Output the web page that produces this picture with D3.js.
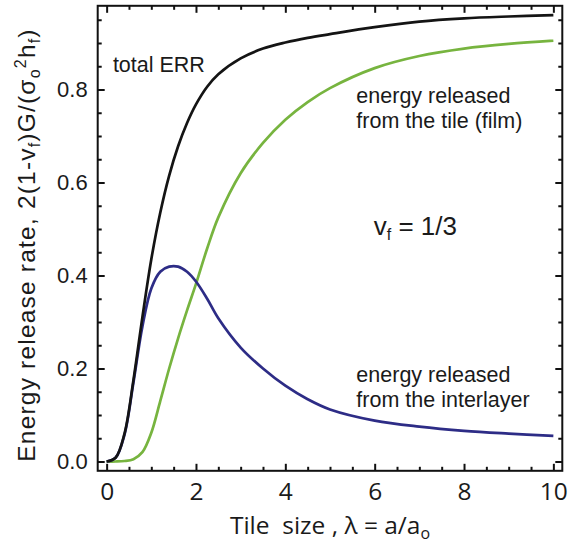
<!DOCTYPE html>
<html>
<head>
<meta charset="utf-8">
<script src="https://cdn.jsdelivr.net/npm/d3@7"></script>
<style>
  body { margin: 0; background: #fff; }
  svg text { font-family: "Liberation Sans", Arial, sans-serif; fill: #1a1a1a; }
  .xlab text, .xtitle { font-family: "Open Sans", "Liberation Sans", sans-serif; }
</style>
</head>
<body>
<svg id="mainsvg" width="576" height="545"></svg>
<script>
// tile size lambda = a/a_o
const lambda = [0, 0.2, 0.4, 0.6, 0.8, 1.0, 1.2, 1.4, 1.6, 1.8, 2.0, 2.25, 2.5, 3, 3.5, 4, 4.5, 5, 6, 7, 8, 9, 10]
const totalErr = [0, 0.008, 0.06, 0.175, 0.31, 0.435, 0.535, 0.615, 0.678, 0.728, 0.768, 0.806, 0.833, 0.867, 0.888, 0.901, 0.911, 0.919, 0.934, 0.946, 0.953, 0.957, 0.960]
const filmErr = [0, 0, 0.001, 0.005, 0.02, 0.062, 0.13, 0.2, 0.265, 0.325, 0.382, 0.458, 0.525, 0.620, 0.685, 0.735, 0.773, 0.803, 0.846, 0.872, 0.888, 0.898, 0.905]
const interlayerErr = [0, 0.008, 0.058, 0.17, 0.29, 0.372, 0.408, 0.419, 0.419, 0.408, 0.387, 0.35, 0.308, 0.245, 0.200, 0.163, 0.134, 0.112, 0.088, 0.075, 0.066, 0.060, 0.055]

const xMajor = [0, 2, 4, 6, 8, 10]
const yMajor = [0, 0.2, 0.4, 0.6, 0.8]

const svg = d3.select('#mainsvg')
const frame = {left: 97.7, right: 562.3, top: 5.8, bottom: 470.8}

let x = d3.scaleLinear().domain([-0.2, 10.2]).range([frame.left, frame.right])
let y = d3.scaleLinear().domain([-0.02, 0.98]).range([frame.bottom, frame.top])

let xMinor = d3.range(0, 10.01, 0.5).filter(v => v % 2 !== 0)
let yMinor = d3.range(0, 0.96, 0.05).filter(v => Math.abs(v * 5 - Math.round(v * 5)) > 0.01)

function ticks(axis, cls, pos) {
    svg.append('g').attr('class', cls).attr('transform', pos).call(axis)
        .call(g => g.select('.domain').remove())
        .call(g => g.selectAll('line').attr('stroke', '#111').attr('stroke-width', 2))
}

// bottom / top
ticks(d3.axisBottom(x).tickValues(xMajor).tickSize(-7).tickPadding(12).tickFormat(d3.format('d')), 'xlab', `translate(0,${frame.bottom})`)
ticks(d3.axisBottom(x).tickValues(xMinor).tickSize(-4).tickFormat(''), 'xmin', `translate(0,${frame.bottom})`)
ticks(d3.axisTop(x).tickValues(xMajor).tickSize(-7).tickFormat(''), 'xtop', `translate(0,${frame.top})`)
ticks(d3.axisTop(x).tickValues(xMinor).tickSize(-4).tickFormat(''), 'xtopmin', `translate(0,${frame.top})`)
// left / right
ticks(d3.axisLeft(y).tickValues(yMajor).tickSize(-7).tickPadding(10).tickFormat(d3.format('.1f')), 'ylab', `translate(${frame.left},0)`)
ticks(d3.axisLeft(y).tickValues(yMinor).tickSize(-4).tickFormat(''), 'ymin', `translate(${frame.left},0)`)
ticks(d3.axisRight(y).tickValues(yMajor).tickSize(-7).tickFormat(''), 'yr', `translate(${frame.right},0)`)
ticks(d3.axisRight(y).tickValues(yMinor).tickSize(-4).tickFormat(''), 'yrmin', `translate(${frame.right},0)`)

svg.selectAll('.xlab text').attr('font-size', 24.5).attr('fill', '#1a1a1a')
svg.selectAll('.ylab text').attr('font-size', 22).attr('fill', '#1a1a1a')

svg.append('rect')
    .attr('x', frame.left).attr('y', frame.top)
    .attr('width', frame.right - frame.left).attr('height', frame.bottom - frame.top)
    .attr('fill', 'none').attr('stroke', '#111').attr('stroke-width', 2)

let series = [
    {vals: filmErr, color: '#77b43f'},
    {vals: interlayerErr, color: '#2d2c86'},
    {vals: totalErr, color: '#141414'}
]
let line = d3.line().curve(d3.curveCatmullRom.alpha(0.5))
series.forEach(s => {
    svg.append('path')
        .attr('d', line(lambda.map((l, i) => [x(l), y(s.vals[i])])))
        .attr('fill', 'none')
        .attr('stroke', s.color)
        .attr('stroke-width', 2.7)
})

// annotations
let notes = [
    {lx: 0.14, ly: 0.837, lines: ['total ERR']},
    {lx: 5.59, ly: 0.772, lines: ['energy released', 'from the tile (film)']},
    {lx: 5.59, ly: 0.172, lines: ['energy released', 'from the interlayer']}
]
notes.forEach(n => {
    let t = svg.append('text').attr('x', x(n.lx)).attr('y', y(n.ly)).attr('font-size', 21.5)
    n.lines.forEach((s, i) => {
        t.append('tspan').attr('x', x(n.lx)).attr('dy', i === 0 ? 0 : 25.7).text(s)
    })
})

let nu = svg.append('text').attr('x', x(5.98)).attr('y', y(0.487)).attr('font-size', 26)
nu.append('tspan').text('v')
nu.append('tspan').attr('font-size', 16).attr('dy', 5).text('f')
nu.append('tspan').attr('dy', -5).text(' = 1/3')

// axis titles
let xt = svg.append('text').attr('class', 'xtitle')
    .attr('x', 330).attr('y', 534).attr('text-anchor', 'middle').attr('font-size', 24.5)
    .attr('xml:space', 'preserve')
xt.append('tspan').text('Tile  size , λ = a/a')
xt.append('tspan').attr('font-size', 16).attr('dy', 5).text('o')

let yt = svg.append('text')
    .attr('transform', `translate(35,245) rotate(-90)`)
    .attr('text-anchor', 'middle').attr('font-size', 24.5).attr('letter-spacing', 1.2)
yt.append('tspan').text('Energy release rate, 2(1-v')
yt.append('tspan').attr('font-size', 16).attr('dy', 5).text('f')
yt.append('tspan').attr('dy', -5).text(')G/(σ')
yt.append('tspan').attr('font-size', 16).attr('dy', 5).text('o')
yt.append('tspan').attr('font-size', 16).attr('dy', -14).text('2')
yt.append('tspan').attr('dy', 9).text('h')
yt.append('tspan').attr('font-size', 16).attr('dy', 5).text('f')
yt.append('tspan').attr('dy', -5).text(')')
</script>
</body>
</html>
